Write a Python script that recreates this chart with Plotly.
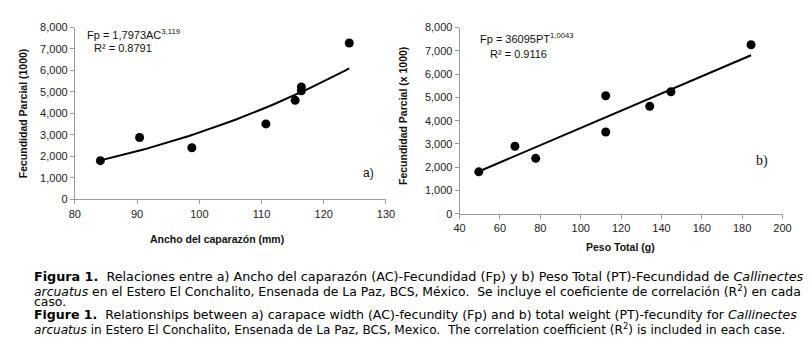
import numpy as np
import plotly.graph_objects as go

# ---- data ----
ac_mm = [84.1, 90.4, 98.8, 110.7, 115.4, 116.4, 116.4, 124.1]
fp_a = [1800, 2880, 2400, 3510, 4610, 5050, 5230, 7280]
pt_g = [49.5, 67.4, 77.7, 112.4, 112.4, 134.2, 144.7, 184.4]
fp_b = [1800, 2900, 2380, 3510, 5070, 4620, 5240, 7260]

# fitted power models shown on the chart (Fp = a * X^b), Fp plotted in thousands
fit_a = (1.7973, 3.119)
fit_b = (36095.0, 1.0043)

y_ticks = [0, 1000, 2000, 3000, 4000, 5000, 6000, 7000, 8000]
x_ticks_a = [80, 90, 100, 110, 120, 130]
x_ticks_b = [40, 60, 80, 100, 120, 140, 160, 180, 200]

caption_lines = [
    "<b>Figura 1.</b>  Relaciones entre a) Ancho del caparazón (AC)-Fecundidad (Fp) y b) Peso Total (PT)-Fecundidad de <i>Callinectes</i>",
    "<i>arcuatus</i> en el Estero El Conchalito, Ensenada de La Paz, BCS, México.  Se incluye el coeficiente de correlación (R<sup>2</sup>) en cada",
    "caso.",
    "<b>Figure 1.</b>  Relationships between a) carapace width (AC)-fecundity (Fp) and b) total weight (PT)-fecundity for <i>Callinectes</i>",
    "<i>arcuatus</i> in Estero El Conchalito, Ensenada de La Paz, BCS, Mexico.  The correlation coefficient (R<sup>2</sup>) is included in each case.",
]

W, H = 812, 344
def px(x):
    return x / W
def py(y):
    return 1 - y / H

NARROW = "Liberation Sans, Arial, sans-serif"
CAP = "DejaVu Sans, sans-serif"

xa = np.linspace(min(ac_mm), max(ac_mm), 60)
ya = fit_a[0] * xa ** fit_a[1] / 1000.0
xb = np.linspace(min(pt_g), max(pt_g), 60)
yb = fit_b[0] * xb ** fit_b[1] / 1000.0

fig = go.Figure()
fig.add_trace(go.Scatter(x=xa, y=ya, mode="lines", line=dict(color="black", width=2),
                         xaxis="x", yaxis="y", hoverinfo="skip"))
fig.add_trace(go.Scatter(x=ac_mm, y=fp_a, mode="markers",
                         marker=dict(color="black", size=9), xaxis="x", yaxis="y"))
fig.add_trace(go.Scatter(x=xb, y=yb, mode="lines", line=dict(color="black", width=2),
                         xaxis="x2", yaxis="y2", hoverinfo="skip"))
fig.add_trace(go.Scatter(x=pt_g, y=fp_b, mode="markers",
                         marker=dict(color="black", size=9), xaxis="x2", yaxis="y2"))

axis_common = dict(showgrid=False, zeroline=False, showline=True, linecolor="#9a9a9a",
                   linewidth=1, ticks="outside", ticklen=4, tickcolor="#9a9a9a",
                   tickfont=dict(family=NARROW, size=11, color="#222"))

fig.update_layout(
    width=W, height=H, margin=dict(l=0, r=0, t=0, b=0),
    paper_bgcolor="white", plot_bgcolor="white", showlegend=False,
    xaxis=dict(domain=[px(62), px(379)], range=[80, 130], tickvals=x_ticks_a,
               anchor="y", **axis_common),
    yaxis=dict(domain=[py(192), py(14)], range=[0, 8000], tickvals=y_ticks,
               tickformat=",", anchor="x", **axis_common),
    xaxis2=dict(domain=[px(454), px(783)], range=[40, 200], tickvals=x_ticks_b,
                anchor="y2", **axis_common),
    yaxis2=dict(domain=[py(207), py(14)], range=[0, 8000], tickvals=y_ticks,
                tickformat=",", anchor="x2", **axis_common),
)

def ann(text, x, y, size=12, family=NARROW, xanchor="center", angle=0, color="#111"):
    fig.add_annotation(text=text, x=px(x), y=py(y), xref="paper", yref="paper",
                       showarrow=False, xanchor=xanchor, yanchor="middle",
                       textangle=angle, font=dict(family=family, size=size, color=color))

# equations
ann("Fp = 1,7973AC<sup>3,119</sup>", 72, 21, size=11, xanchor="left")
ann("R² = 0.8791", 111, 35, size=11)
ann("Fp = 36095PT<sup>1,0043</sup>", 473, 25, size=11, xanchor="left")
ann("R² = 0.9116", 514, 41, size=11)
# panel labels
ann("a)", 361, 165, size=12)
ann("b)", 762, 152, size=14, family="Liberation Serif, Times New Roman, serif")
# axis titles
ann("<b>Ancho del caparazón (mm)</b>", 207, 233, size=10.5)
ann("<b>Peso Total (g)</b>", 618, 241, size=10.5)
ann("<b>Fecundidad Parcial (1000)</b>", 10, 103, size=10.5, angle=-90)
ann("<b>Fecundidad Parcial (x 1000)</b>", 397, 106, size=10.5, angle=-90)

# caption (per-line sizes approximate the justified block of the reference)
cap_y = [272, 287, 298, 311, 326]
cap_size = [12.75, 12.4, 12.4, 12.55, 12.1]
for t, y, s in zip(caption_lines, cap_y, cap_size):
    ann(t, 18, y, size=s, family=CAP, xanchor="left", color="#000")

fig.write_html("out.html")
